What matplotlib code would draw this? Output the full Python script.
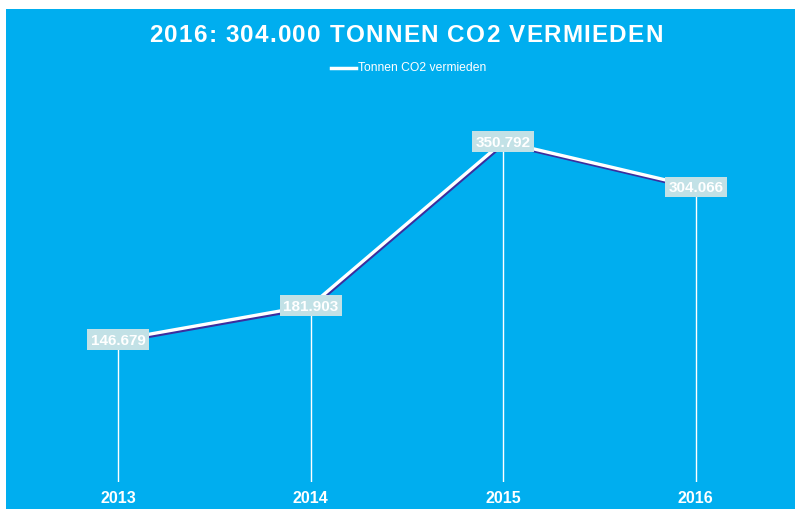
import matplotlib.pyplot as plt
import matplotlib.patheffects as pe
from matplotlib.patches import Rectangle

years = ['2013', '2014', '2015', '2016']
co2_avoided = [146.679, 181.903, 350.792, 304.066]
labels = ['146.679', '181.903', '350.792', '304.066']

title = '2016: 304.000 TONNEN CO2 VERMIEDEN'
series_name = 'Tonnen CO2 vermieden'

blue = '#00aeef'
plt.rcParams['font.family'] = ['Liberation Sans', 'DejaVu Sans']

fig = plt.figure(figsize=(7.95, 5.10), dpi=100)
fig.patch.set_facecolor('white')
# blue panel with a thin white margin on top and left
fig.add_artist(Rectangle((6 / 795, 0), 1, 1 - 10 / 510, transform=fig.transFigure,
                         facecolor=blue, edgecolor='none', zorder=0))

ax = fig.add_axes([22 / 795, 1 - 483 / 510, 770 / 795, 388 / 510])
ax.set_facecolor('none')
x = list(range(len(years)))

ax.vlines(x, 0, co2_avoided, color='white', lw=1, zorder=2)
ax.plot(x, co2_avoided, color='white', lw=2.4, zorder=3, solid_capstyle='round',
        path_effects=[pe.SimpleLineShadow(offset=(0.6, -1.4), shadow_color='#3b2e9e',
                                          alpha=1.0),
                      pe.Normal()])

for xi, v, lab in zip(x, co2_avoided, labels):
    ax.text(xi, v, lab, ha='center', va='center', color='white', fontsize=11,
            fontweight='bold', zorder=5,
            bbox=dict(boxstyle='square,pad=0.22', facecolor='#c2e1e6',
                      edgecolor='none'))

ax.set_xlim(-0.5, 3.5)
ax.set_ylim(0, 400)
ax.set_xticks(x)
ax.set_xticklabels(years, color='white', fontsize=11.5, fontweight='bold')
ax.tick_params(axis='x', length=0, pad=6)
ax.set_yticks([])
for s in ax.spines.values():
    s.set_visible(False)

# title with letter spacing, placed char by char
renderer = fig.canvas.get_renderer()
spacing = 1.2
chars = []
for ch in title:
    t = fig.text(0, 1 - 35 / 510, ch, ha='left', va='center', color='white',
                 fontsize=17.5, fontweight='bold')
    chars.append(t)
widths = []
for t in chars:
    if t.get_text() == ' ':
        t.set_text('x')
        w = t.get_window_extent(renderer).width * 0.5
        t.set_text(' ')
    else:
        w = t.get_window_extent(renderer).width
    widths.append(w)
total = sum(widths) + spacing * (len(chars) - 1)
xpos = 406 - total / 2
for t, w in zip(chars, widths):
    t.set_x(xpos / 795)
    xpos += w + spacing

# legend
fig.add_artist(plt.Line2D([331 / 795, 356 / 795], [1 - 69 / 510, 1 - 69 / 510],
                          transform=fig.transFigure, color='white', lw=2.5))
fig.text(358 / 795, 1 - 68 / 510, series_name, ha='left', va='center', color='white',
         fontsize=8.7)

fig.savefig('out.png', dpi=100)
